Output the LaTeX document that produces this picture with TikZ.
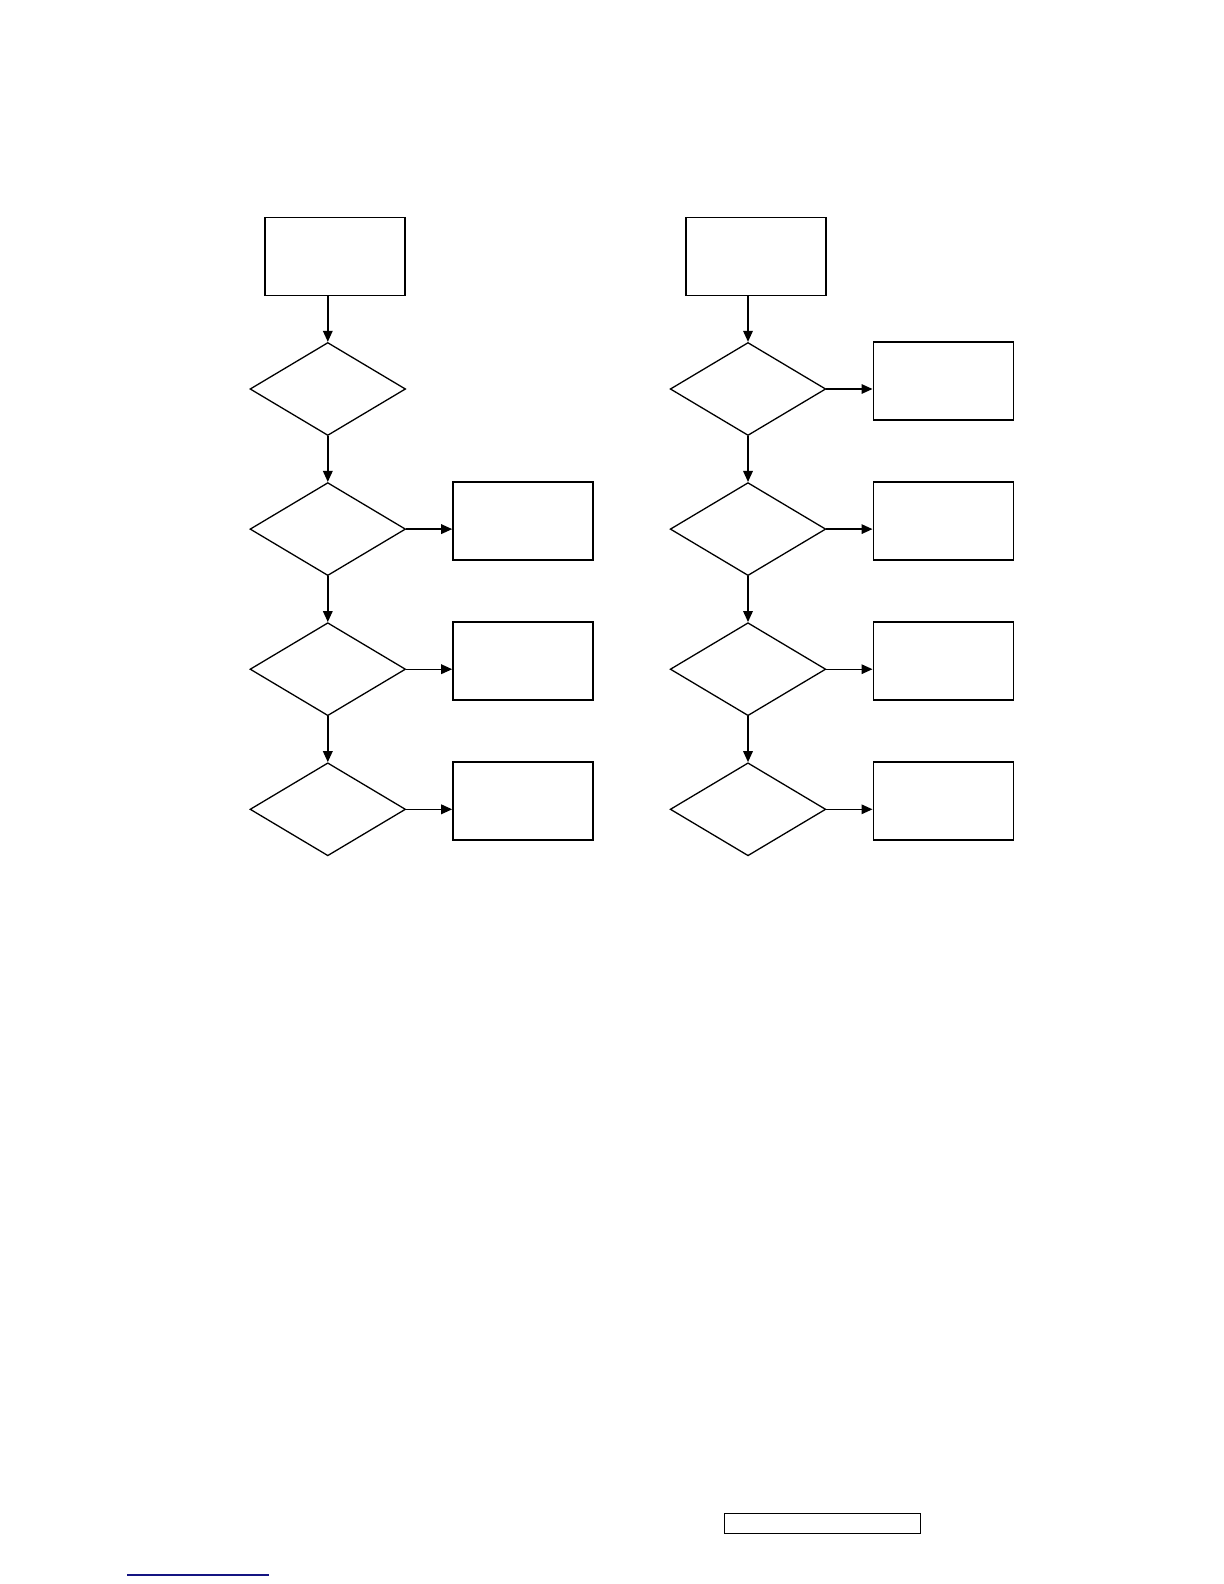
\documentclass[tikz,border=0pt]{standalone}
\usetikzlibrary{shapes.geometric,arrows.meta}
\begin{document}
\begin{tikzpicture}[x=0.5pt,y=-0.5pt,
  box/.style={draw,line width=0.8pt,rectangle,inner sep=0pt,minimum width=70pt,minimum height=39pt},
  dia/.style={draw,line width=0.65pt,diamond,inner sep=0pt,minimum width=77.8pt,minimum height=46.5pt},
  flow/.style={line width=0.7pt,-{Triangle[length=5.5pt,width=4.8pt]}},
  small/.style={draw,line width=0.8pt,rectangle,inner sep=0pt,minimum width=98pt,minimum height=10pt}]
\useasboundingbox (0,0) rectangle (1224,1584);
% left column
\node[box] (lt) at (335.2,256.5) {};
\node[dia] (ld1) at (327.8,389) {};
\node[dia] (ld2) at (327.8,529.1) {};
\node[dia] (ld3) at (327.8,669.2) {};
\node[dia] (ld4) at (327.8,809.3) {};
\node[box] (lb2) at (523,521.2) {};
\node[box] (lb3) at (523,661.2) {};
\node[box] (lb4) at (523,801.2) {};
\draw[flow] (lt.south -| ld1.north) -- (ld1.north);
\draw[flow] (ld1.south) -- (ld2.north);
\draw[flow] (ld2.south) -- (ld3.north);
\draw[flow] (ld3.south) -- (ld4.north);
\draw[flow] (ld2.east) -- (lb2.west |- ld2.east);
\draw[flow] (ld3.east) -- (lb3.west |- ld3.east);
\draw[flow] (ld4.east) -- (lb4.west |- ld4.east);
% right column
\node[box] (rt) at (755.7,256.5) {};
\node[dia] (rd1) at (748,389) {};
\node[dia] (rd2) at (748,529.1) {};
\node[dia] (rd3) at (748,669.2) {};
\node[dia] (rd4) at (748,809.3) {};
\node[box] (rb1) at (943.3,381.2) {};
\node[box] (rb2) at (943.3,521.2) {};
\node[box] (rb3) at (943.3,661.2) {};
\node[box] (rb4) at (943.3,801.2) {};
\draw[flow] (rt.south -| rd1.north) -- (rd1.north);
\draw[flow] (rd1.south) -- (rd2.north);
\draw[flow] (rd2.south) -- (rd3.north);
\draw[flow] (rd3.south) -- (rd4.north);
\draw[flow] (rd1.east) -- (rb1.west |- rd1.east);
\draw[flow] (rd2.east) -- (rb2.west |- rd2.east);
\draw[flow] (rd3.east) -- (rb3.west |- rd3.east);
\draw[flow] (rd4.east) -- (rb4.west |- rd4.east);
% footer
\node[small] (foot) at (822.3,1523.3) {};
\coordinate (la) at (127.3,1575);
\coordinate (lb) at (269,1575);
\draw[line width=0.7pt,color={rgb,255:red,20;green,20;blue,130}] (la) -- (lb);
\end{tikzpicture}
\end{document}
